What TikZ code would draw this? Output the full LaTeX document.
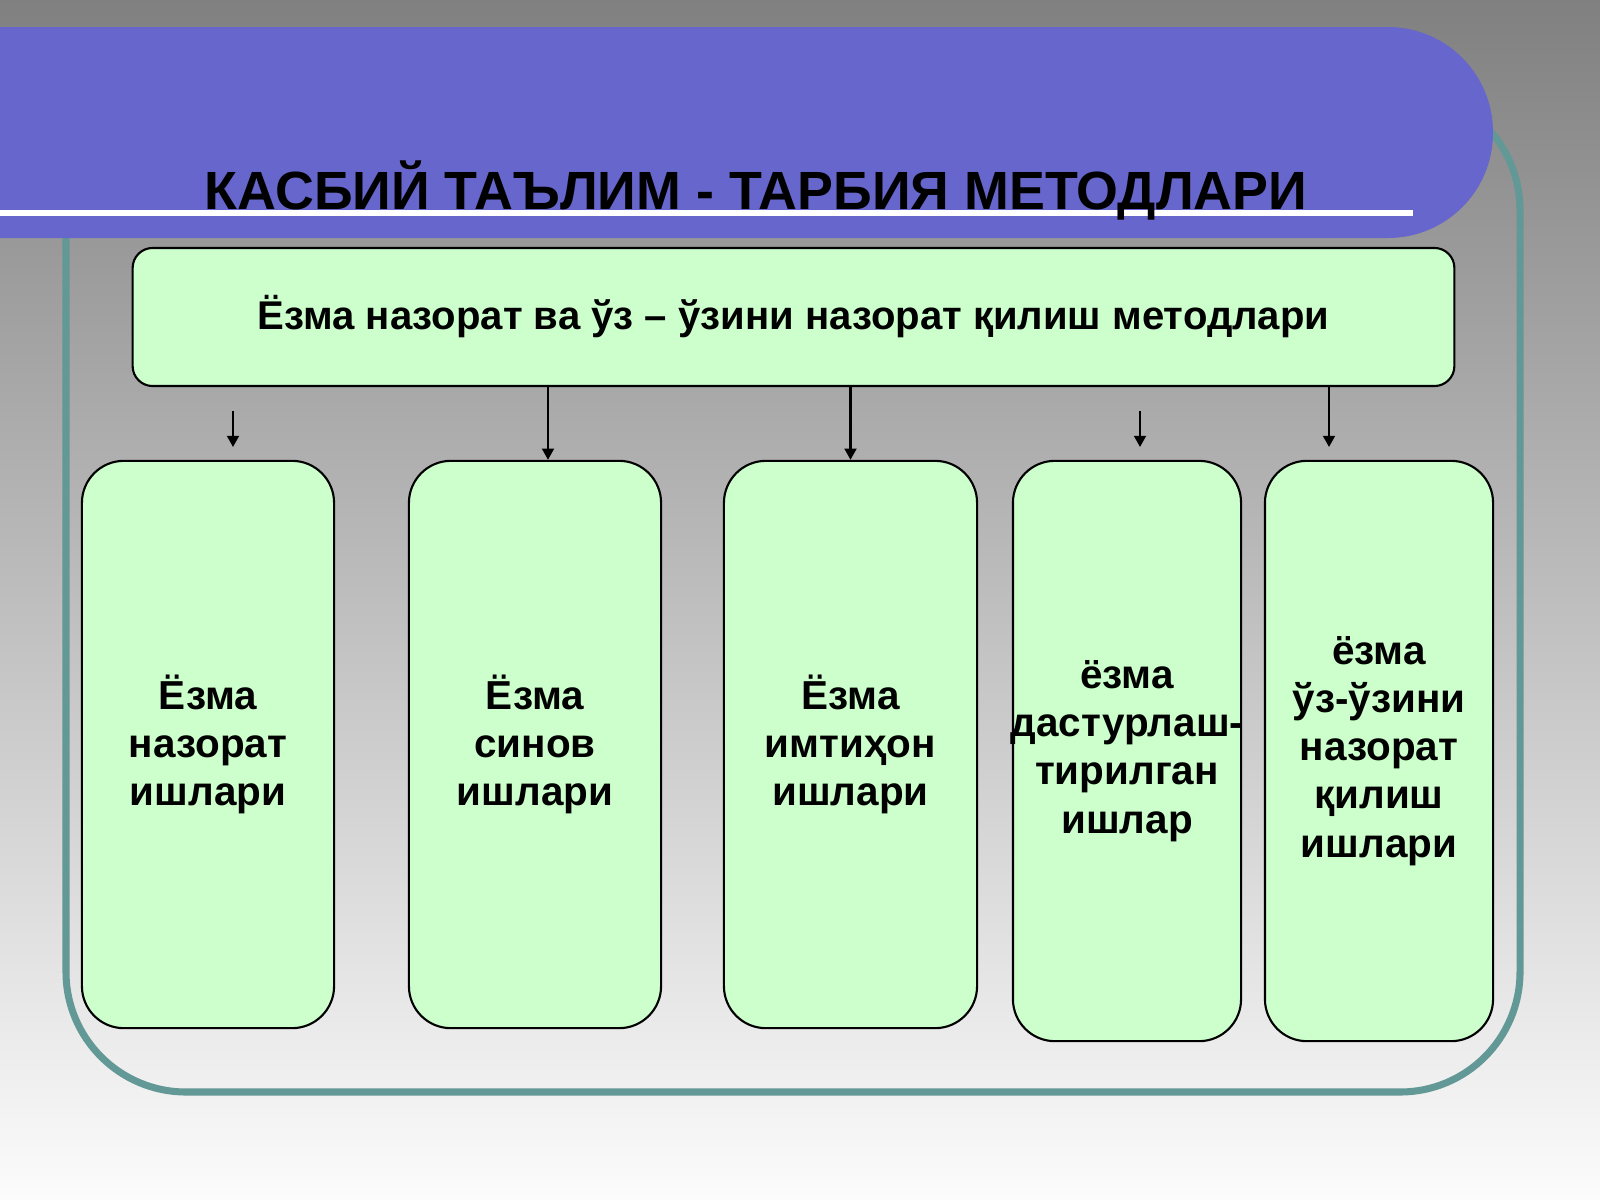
\documentclass[tikz,border=0pt]{standalone}
\usepackage{fontspec}
\setmainfont{Liberation Sans}
\usetikzlibrary{arrows.meta}
\begin{document}
\begin{tikzpicture}[x=0.01cm, y=-0.01cm,
    mainbox/.style={draw, line width=0.6pt, rounded corners=0.2cm, fill={rgb,255:red,204;green,255;blue,204}, font=\bfseries\fontsize{11.4}{13.7}\selectfont, inner sep=0pt},
    subbox/.style={draw, line width=0.6pt, rounded corners=0.42cm, fill={rgb,255:red,204;green,255;blue,204}, font=\bfseries\fontsize{11.5}{13.7}\selectfont, align=center, inner sep=0pt},
    arr/.style={-{Triangle[length=3.2pt,width=3.4pt]}, line width=0.6pt}]
  \useasboundingbox (0,0) rectangle (1600,1200);
  \shade[top color={rgb,255:red,128;green,128;blue,128}, bottom color={rgb,255:red,252;green,252;blue,252}] (0,0) rectangle (1600,1200);
  \draw[line width=2pt, rounded corners=1.2cm, draw={rgb,255:red,98;green,152;blue,150}] (66,90) rectangle (1520,1092);
  \fill[fill={rgb,255:red,102;green,102;blue,204}, rounded corners=1.05cm] (-300,27) rectangle (1493,238);
  \fill[white] (0,210) rectangle (1413,216);
  \node[anchor=base, font=\bfseries\fontsize{15.3}{18}\selectfont, inner sep=0pt] (title) at (756,209) {КАСБИЙ ТАЪЛИМ - ТАРБИЯ МЕТОДЛАРИ};
  \node[mainbox, minimum width=13.21cm, minimum height=1.38cm] (top) at (793.5,317) {Ёзма назорат ва ўз – ўзини назорат қилиш методлари};
  \node[subbox, minimum width=2.52cm, minimum height=5.67cm] (b1) at (208,744.5) {Ёзма\\назорат\\ишлари};
  \node[subbox, minimum width=2.52cm, minimum height=5.67cm] (b2) at (535,744.5) {Ёзма\\синов\\ишлари};
  \node[subbox, minimum width=2.53cm, minimum height=5.67cm] (b3) at (850.5,744.5) {Ёзма\\имтиҳон\\ишлари};
  \node[subbox, minimum width=2.28cm, minimum height=5.8cm] (b4) at (1127,751) {ёзма\\\makebox[2.2cm]{дастурлаш-}\\тирилган\\ишлар};
  \node[subbox, minimum width=2.28cm, minimum height=5.8cm] (b5) at (1379,751) {ёзма\\ўз-ўзини\\назорат\\қилиш\\ишлари};
  \coordinate (a1s) at (233,411);
  \coordinate (a1e) at (233,447);
  \coordinate (a2) at (548,0);
  \coordinate (a4s) at (1140,411);
  \coordinate (a4e) at (1140,447);
  \coordinate (a5) at (1329,447);
  \draw[arr] (a1s) -- (a1e);
  \draw[arr] (top.south -| a2) -- (b2.north -| a2);
  \draw[arr] (top.south -| b3.north) -- (b3.north);
  \draw[arr] (a4s) -- (a4e);
  \draw[arr] (top.south -| a5) -- (a5);
\end{tikzpicture}
\end{document}
